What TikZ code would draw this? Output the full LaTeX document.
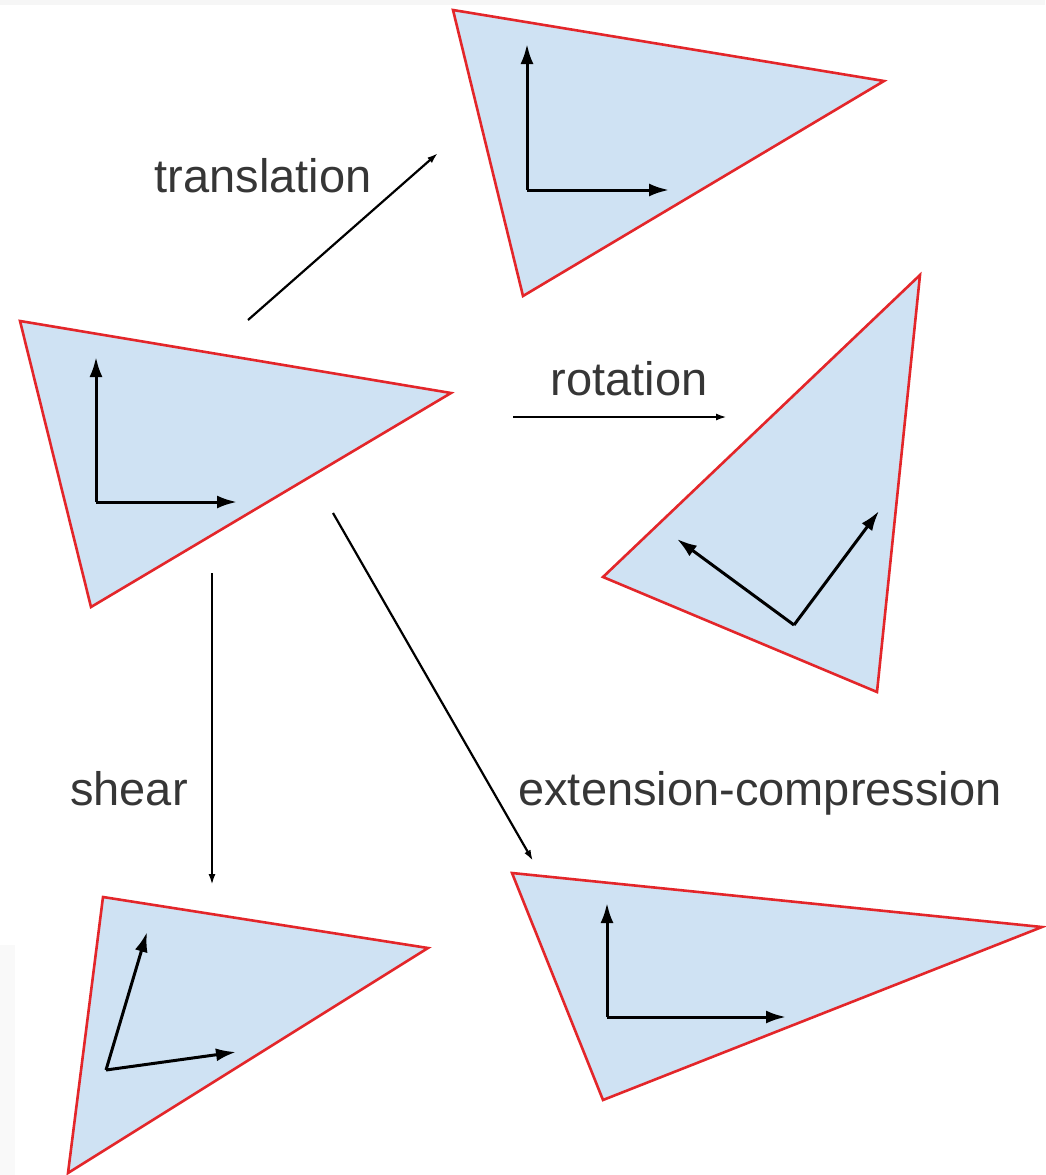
\documentclass[tikz,border=0pt]{standalone}
\usepackage{fontspec}
\setmainfont{Liberation Sans}
\usetikzlibrary{arrows.meta}
\definecolor{trifill}{HTML}{CFE2F3}
\definecolor{triedge}{HTML}{E3262A}
\definecolor{txt}{HTML}{363636}
\tikzset{
  tri/.style={fill=trifill, draw=triedge, line width=2.6pt, line join=miter},
  axis/.style={draw=black, line width=3pt, -{Latex[length=20pt,width=13pt]}},
  conn/.style={draw=black, line width=2.2pt, -{Latex[length=11pt,width=7pt]}},
  lbl/.style={text=txt, font=\fontsize{47}{50}\selectfont, inner sep=0pt}
}
\begin{document}
\begin{tikzpicture}[x=1pt,y=-1pt]
\useasboundingbox (0,0) rectangle (1045,1175);
\fill[gray!7] (0,0) rectangle (1045,5);
\fill[gray!5] (0,945) rectangle (15,1175);
% main triangle
\coordinate (a1) at (20,321); \coordinate (a2) at (451,393); \coordinate (a3) at (91,607);
\filldraw[tri] (a1) -- (a2) -- (a3) -- cycle;
\coordinate (ao) at (96,502);
\draw[axis] (ao) -- (96,357);
\draw[axis] (ao) -- (237,502);
% translated
\coordinate (b1) at (453,10); \coordinate (b2) at (884,81); \coordinate (b3) at (523,296);
\filldraw[tri] (b1) -- (b2) -- (b3) -- cycle;
\coordinate (bo) at (527,190);
\draw[axis] (bo) -- (527,44);
\draw[axis] (bo) -- (669,190);
% rotated
\coordinate (c1) at (920,275); \coordinate (c2) at (603,577); \coordinate (c3) at (877,692);
\filldraw[tri] (c1) -- (c2) -- (c3) -- cycle;
\coordinate (co) at (794,625);
\draw[axis] (co) -- (677,539);
\draw[axis] (co) -- (879,511);
% sheared
\coordinate (d1) at (103,897); \coordinate (d2) at (428,948); \coordinate (d3) at (68,1173);
\filldraw[tri] (d1) -- (d2) -- (d3) -- cycle;
\coordinate (do) at (106,1070);
\draw[axis] (do) -- (147,932);
\draw[axis] (do) -- (236,1052);
% extension-compression
\coordinate (e1) at (512,873); \coordinate (e2) at (1042,927); \coordinate (e3) at (603,1100);
\filldraw[tri] (e1) -- (e2) -- (e3) -- cycle;
\coordinate (eo) at (607,1017);
\draw[axis] (eo) -- (607,903);
\draw[axis] (eo) -- (786,1017);
% connectors
\coordinate (ts) at (248,320); \coordinate (te) at (438,153);
\coordinate (rs) at (513,417); \coordinate (re) at (727,417);
\coordinate (ss) at (212,573); \coordinate (se) at (212,885);
\coordinate (xs) at (333,513); \coordinate (xe) at (533,861);
\draw[conn] (ts) -- (te);
\draw[conn] (rs) -- (re);
\draw[conn] (ss) -- (se);
\draw[conn] (xs) -- (xe);
% labels
\node[lbl, anchor=base] (lt) at (263,192) {translation};
\node[lbl, anchor=base] (lr) at (629,395) {rotation};
\node[lbl, anchor=base] (ls) at (129,805) {shear};
\node[lbl, anchor=base] (lx) at (760,805) {extension-compression};
\end{tikzpicture}
\end{document}
